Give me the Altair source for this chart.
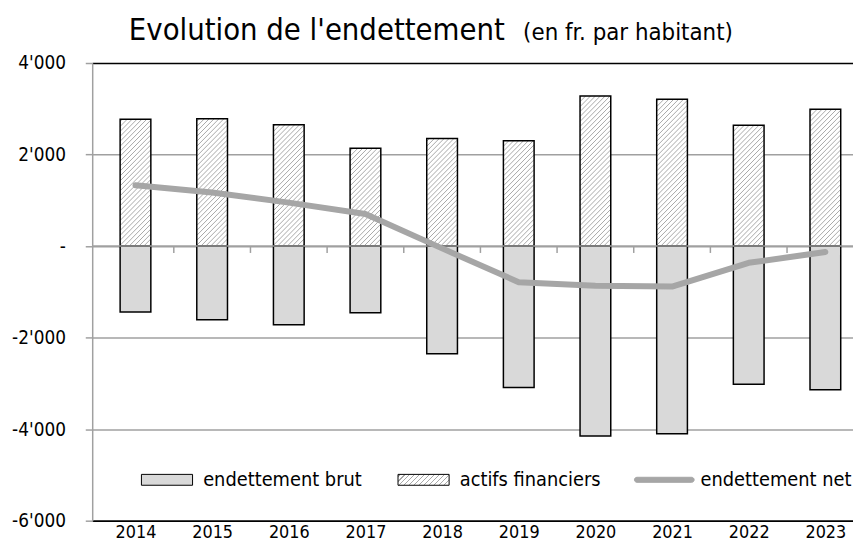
import altair as alt
import pandas as pd

# ---------------- data ----------------
years = [2014, 2015, 2016, 2017, 2018, 2019, 2020, 2021, 2022, 2023]
actifs = [2770, 2780, 2650, 2140, 2350, 2300, 3280, 3210, 2640, 2990]
brut = [-1440, -1610, -1720, -1455, -2350, -3090, -4150, -4100, -3020, -3140]
net = [1330, 1170, 950, 700, -50, -790, -865, -885, -365, -130]
series = ["endettement brut", "actifs financiers", "endettement net"]
y_ticks = [-6000, -4000, -2000, 0, 2000, 4000]
title_main = "Evolution de l'endettement"
title_sub = "(en fr. par habitant)"

# ---------------- geometry / style ----------------
FONT = "'DejaVu Sans Condensed', 'Liberation Sans Narrow', 'DejaVu Sans', sans-serif"
W, H = 768, 462
PX_YEAR = 78.4
X_MIN = 2013.5
X_MAX = X_MIN + W / PX_YEAR
Y_MIN, Y_MAX = -6000, 4000
U = (Y_MAX - Y_MIN) / H          # data units per pixel (y)
BW = 31                          # bar width px
S = 5                            # hatch spacing px
GRID = "#a0a0a0"
HATCH = "#a8a8a8"

bars_df = pd.DataFrame({
    "year": years + years,
    "serie": [series[0]] * len(years) + [series[1]] * len(years),
    "value": brut + actifs,
})
net_df = pd.DataFrame({"year": years, "net": net})
zero_df = pd.DataFrame({"v": [0]})
legend_df = pd.DataFrame({"serie": series})
title_df = pd.DataFrame({"t": [title_main]})
sub_df = pd.DataFrame({"t": [title_sub]})

x_scale = alt.Scale(domain=[X_MIN, X_MAX], nice=False, zero=False)
y_scale = alt.Scale(domain=[Y_MIN, Y_MAX], nice=False)

x_axis = alt.Axis(
    values=years, format="d", ticks=False, grid=False, labelFlush=False,
    labelOverlap=False, domainColor="black", domainWidth=1.5,
    labelFontSize=18, labelFont=FONT, labelColor="black", labelPadding=3,
    title=None,
)
y_axis = alt.Axis(
    values=y_ticks,
    labelExpr="datum.value == 0 ? '-\u2007' : replace((datum.value < 0 ? '-' : '') + format(abs(datum.value), ','), ',', \"'\")",
    grid=True,
    gridColor={"condition": {"test": "datum.value == 4000 || datum.value == -6000", "value": "black"}, "value": GRID},
    gridWidth=1.5, domainColor=GRID, domainWidth=1.5, tickColor=GRID, tickWidth=1.5,
    tickSize=7, labelPadding=20, labelFontSize=19, labelFont=FONT, labelColor="black",
    title=None,
)

base = alt.Chart(bars_df)

bars = base.mark_bar(size=BW, clip=True, opacity=1, strokeWidth=0).encode(
    x=alt.X("year:Q", scale=x_scale, axis=x_axis),
    y=alt.Y("value:Q", scale=y_scale, axis=y_axis),
    y2=alt.Y2Datum(0),
    fill=alt.condition(alt.datum.serie == series[0], alt.value("#d9d9d9"), alt.value("white")),
)

hatch = base.transform_filter(alt.datum.serie == series[1]).transform_calculate(
    hp=f"datum.value / {U}",
    cs=f"sequence(-{BW} + 2, datum.value / {U}, {S})",
).transform_flatten(["cs"]).transform_calculate(
    umin="max(0, -datum.cs)",
    umax=f"min({BW}, datum.hp - datum.cs)",
).transform_filter("datum.umin < datum.umax").transform_calculate(
    hx1=f"datum.year + (datum.umin - {BW / 2}) / {PX_YEAR}",
    hy1=f"(datum.umin + datum.cs) * {U}",
    hx2=f"datum.year + (datum.umax - {BW / 2}) / {PX_YEAR}",
    hy2=f"(datum.umax + datum.cs) * {U}",
).mark_rule(color=HATCH, strokeWidth=1, clip=True).encode(
    x=alt.X("hx1:Q", title=None),
    y=alt.Y("hy1:Q", title=None),
    x2="hx2:Q",
    y2="hy2:Q",
)

outlines = base.mark_bar(size=BW, clip=True, fillOpacity=0, stroke="black", strokeWidth=1.5).encode(
    x=alt.X("year:Q", title=None),
    y=alt.Y("value:Q", title=None),
    y2=alt.Y2Datum(0),
)

zero_line = alt.Chart(zero_df).mark_rule(color=GRID, strokeWidth=1.5).encode(
    y=alt.Y("v:Q", title=None)
)

cat_ticks = base.transform_filter(
    (alt.datum.serie == series[0]) & (alt.datum.year < max(years))
).transform_calculate(tx="datum.year + 0.5").mark_rule(color=GRID, strokeWidth=1.5).encode(
    x=alt.X("tx:Q", title=None),
    y=alt.YDatum(0),
    y2=alt.Y2Datum(-150),
)

line = alt.Chart(net_df).mark_line(
    color="#a6a6a6", strokeWidth=6, strokeCap="round", strokeJoin="round", clip=True
).encode(
    x=alt.X("year:Q", title=None),
    y=alt.Y("net:Q", title=None),
)

# legend symbols
rect_path = "M-0.86,-0.183H0.86V0.183H-0.86Z"
caps_path = ("M-0.92,-0.085L0.92,-0.085A0.085,0.085 0 0 1 0.92,0.085"
             "L-0.92,0.085A0.085,0.085 0 0 1 -0.92,-0.085Z")
period = 5 / 62.6
lw = 1.2 / 62.6
stops = ["{offset: 0, color: '#ffffff'}"]
k = 0
while True:
    s0 = k * period + period * 0.3
    if s0 + lw > 1:
        break
    stops += [f"{{offset: {s0:.4f}, color: '#ffffff'}}", f"{{offset: {s0:.4f}, color: '{HATCH}'}}",
              f"{{offset: {s0 + lw:.4f}, color: '{HATCH}'}}", f"{{offset: {s0 + lw:.4f}, color: '#ffffff'}}"]
    k += 1
stops.append("{offset: 1, color: '#ffffff'}")
grad_expr = "{gradient: 'linear', x1: 0, y1: 0, x2: 1.16, y2: 0.247, stops: [" + ", ".join(stops) + "]}"

leg = alt.Legend(
    title=None, orient="none", legendX=45, legendY=390, direction="horizontal",
    columnPadding=31, labelOffset=6, symbolSize=3600, symbolStrokeWidth=1,
    labelFontSize=20, labelFont=FONT, labelColor="black", labelLimit=400, padding=0,
)

legend_layer = alt.Chart(legend_df).transform_filter("false").mark_point(filled=True, opacity=1, strokeWidth=1).encode(
    fill=alt.Fill("serie:N", scale=alt.Scale(domain=series, range=["#d9d9d9", {"expr": grad_expr}, "#a6a6a6"]), legend=leg),
    stroke=alt.Stroke("serie:N", scale=alt.Scale(domain=series, range=["black", "black", "#a6a6a6"]), legend=leg),
    shape=alt.Shape("serie:N", scale=alt.Scale(domain=series, range=[rect_path, rect_path, caps_path]), legend=leg),
)

title_t = alt.Chart(title_df).mark_text(align="left", baseline="alphabetic", fontSize=31, font=FONT, color="black").encode(
    text="t:N", x=alt.value(37), y=alt.value(-23)
)
sub_t = alt.Chart(sub_df).mark_text(align="left", baseline="alphabetic", fontSize=24, font=FONT, color="black").encode(
    text="t:N", x=alt.value(435), y=alt.value(-23)
)

chart = alt.layer(
    bars, hatch, outlines, zero_line, cat_ticks, line, legend_layer, title_t, sub_t
).properties(
    width=W, height=H, autosize=alt.AutoSizeParams(type="none"),
    padding={"left": 85, "top": 53, "right": 0, "bottom": 21},
    background="white",
).configure_view(strokeWidth=0)

chart.save("out.html", embed_options={"renderer": "svg", "actions": False})
